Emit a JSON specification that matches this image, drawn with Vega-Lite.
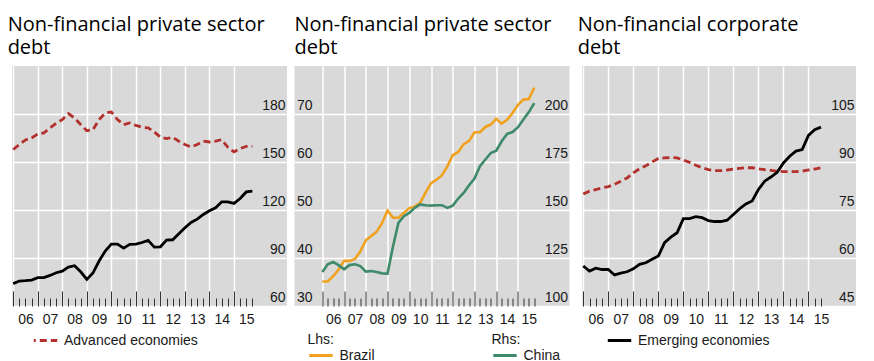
{
  "$schema": "https://vega.github.io/schema/vega-lite/v6.json",
  "background": "white",
  "padding": {"left": 7, "top": 15, "right": 0, "bottom": 0},
  "spacing": 7.5,
  "config": {
    "view": {"fill": "#d9d9d9", "stroke": null},
    "title": {"font": "Open Sans", "fontSize": 20, "fontWeight": "normal", "anchor": "start", "lineHeight": 23, "offset": 8, "color": "#000000"},
    "axis": {"labelFont": "Liberation Sans", "labelFontSize": 14, "labelColor": "#1a1a1a", "title": null, "domain": false},
    "legend": {"labelFont": "Liberation Sans", "labelFontSize": 14, "labelColor": "#1a1a1a", "titleFont": "Liberation Sans", "titleFontSize": 14, "titleFontWeight": "normal", "titleColor": "#1a1a1a", "symbolType": "stroke", "symbolSize": 550, "symbolStrokeWidth": 3, "labelOffset": 5, "padding": 0, "titlePadding": -5, "orient": "none"}
  },
  "datasets": {
    "p1": [
      {"t": 2006.0, "Advanced economies": 157.8, "Emerging economies": 74.0},
      {"t": 2006.25, "Advanced economies": 160.9, "Emerging economies": 75.6},
      {"t": 2006.5, "Advanced economies": 163.8, "Emerging economies": 75.8},
      {"t": 2006.75, "Advanced economies": 165.0, "Emerging economies": 76.2},
      {"t": 2007.0, "Advanced economies": 167.5, "Emerging economies": 77.7},
      {"t": 2007.25, "Advanced economies": 168.2, "Emerging economies": 77.7},
      {"t": 2007.5, "Advanced economies": 171.3, "Emerging economies": 79.1},
      {"t": 2007.75, "Advanced economies": 174.2, "Emerging economies": 80.8},
      {"t": 2008.0, "Advanced economies": 176.5, "Emerging economies": 81.8},
      {"t": 2008.25, "Advanced economies": 180.2, "Emerging economies": 84.3},
      {"t": 2008.5, "Advanced economies": 177.5, "Emerging economies": 85.2},
      {"t": 2008.75, "Advanced economies": 173.4, "Emerging economies": 81.4},
      {"t": 2009.0, "Advanced economies": 169.6, "Emerging economies": 76.6},
      {"t": 2009.25, "Advanced economies": 170.2, "Emerging economies": 80.6},
      {"t": 2009.5, "Advanced economies": 176.5, "Emerging economies": 88.1},
      {"t": 2009.75, "Advanced economies": 180.6, "Emerging economies": 94.3},
      {"t": 2010.0, "Advanced economies": 181.3, "Emerging economies": 98.7},
      {"t": 2010.25, "Advanced economies": 176.5, "Emerging economies": 98.7},
      {"t": 2010.5, "Advanced economies": 173.4, "Emerging economies": 96.2},
      {"t": 2010.75, "Advanced economies": 174.4, "Emerging economies": 98.5},
      {"t": 2011.0, "Advanced economies": 172.9, "Emerging economies": 98.7},
      {"t": 2011.25, "Advanced economies": 171.7, "Emerging economies": 99.7},
      {"t": 2011.5, "Advanced economies": 171.3, "Emerging economies": 101.0},
      {"t": 2011.75, "Advanced economies": 168.8, "Emerging economies": 96.8},
      {"t": 2012.0, "Advanced economies": 165.5, "Emerging economies": 97.0},
      {"t": 2012.25, "Advanced economies": 164.6, "Emerging economies": 101.2},
      {"t": 2012.5, "Advanced economies": 165.5, "Emerging economies": 101.4},
      {"t": 2012.75, "Advanced economies": 163.0, "Emerging economies": 105.1},
      {"t": 2013.0, "Advanced economies": 160.9, "Emerging economies": 108.9},
      {"t": 2013.25, "Advanced economies": 159.4, "Emerging economies": 112.2},
      {"t": 2013.5, "Advanced economies": 160.9, "Emerging economies": 114.3},
      {"t": 2013.75, "Advanced economies": 163.0, "Emerging economies": 117.2},
      {"t": 2014.0, "Advanced economies": 162.5, "Emerging economies": 119.5},
      {"t": 2014.25, "Advanced economies": 163.0, "Emerging economies": 121.4},
      {"t": 2014.5, "Advanced economies": 164.0, "Emerging economies": 125.1},
      {"t": 2014.75, "Advanced economies": 159.2, "Emerging economies": 125.1},
      {"t": 2015.0, "Advanced economies": 156.3, "Emerging economies": 124.1},
      {"t": 2015.25, "Advanced economies": 158.4, "Emerging economies": 127.2},
      {"t": 2015.5, "Advanced economies": 159.8, "Emerging economies": 131.3},
      {"t": 2015.75, "Advanced economies": 159.8, "Emerging economies": 131.8}
    ],
    "p2": [
      {"t": 2006.0, "Brazil": 35.1, "China": 117.7},
      {"t": 2006.25, "Brazil": 35.1, "China": 121.7},
      {"t": 2006.5, "Brazil": 36.2, "China": 122.9},
      {"t": 2006.75, "Brazil": 37.6, "China": 121.3},
      {"t": 2007.0, "Brazil": 39.4, "China": 119.1},
      {"t": 2007.25, "Brazil": 39.4, "China": 121.3},
      {"t": 2007.5, "Brazil": 39.8, "China": 121.7},
      {"t": 2007.75, "Brazil": 41.4, "China": 120.8},
      {"t": 2008.0, "Brazil": 43.7, "China": 117.9},
      {"t": 2008.25, "Brazil": 44.6, "China": 118.2},
      {"t": 2008.5, "Brazil": 45.5, "China": 117.7},
      {"t": 2008.75, "Brazil": 47.3, "China": 117.0},
      {"t": 2009.0, "Brazil": 49.9, "China": 116.8},
      {"t": 2009.25, "Brazil": 48.4, "China": 131.0},
      {"t": 2009.5, "Brazil": 48.4, "China": 143.3},
      {"t": 2009.75, "Brazil": 49.4, "China": 146.8},
      {"t": 2010.0, "Brazil": 50.4, "China": 148.5},
      {"t": 2010.25, "Brazil": 50.7, "China": 151.1},
      {"t": 2010.5, "Brazil": 51.5, "China": 152.9},
      {"t": 2010.75, "Brazil": 53.6, "China": 152.5},
      {"t": 2011.0, "Brazil": 55.6, "China": 152.3},
      {"t": 2011.25, "Brazil": 56.3, "China": 152.5},
      {"t": 2011.5, "Brazil": 57.2, "China": 152.5},
      {"t": 2011.75, "Brazil": 59.1, "China": 151.1},
      {"t": 2012.0, "Brazil": 61.4, "China": 152.3},
      {"t": 2012.25, "Brazil": 62.1, "China": 156.0},
      {"t": 2012.5, "Brazil": 63.7, "China": 158.9},
      {"t": 2012.75, "Brazil": 64.4, "China": 162.9},
      {"t": 2013.0, "Brazil": 66.2, "China": 166.4},
      {"t": 2013.25, "Brazil": 66.2, "China": 172.8},
      {"t": 2013.5, "Brazil": 67.3, "China": 176.3},
      {"t": 2013.75, "Brazil": 67.8, "China": 179.7},
      {"t": 2014.0, "Brazil": 69.0, "China": 180.9},
      {"t": 2014.25, "Brazil": 68.0, "China": 185.8},
      {"t": 2014.5, "Brazil": 68.8, "China": 189.6},
      {"t": 2014.75, "Brazil": 70.2, "China": 190.6},
      {"t": 2015.0, "Brazil": 71.9, "China": 193.1},
      {"t": 2015.25, "Brazil": 73.0, "China": 197.1},
      {"t": 2015.5, "Brazil": 73.1, "China": 201.0},
      {"t": 2015.75, "Brazil": 75.5, "China": 205.7}
    ],
    "p3": [
      {"t": 2006.0, "Advanced economies": 80.0, "Emerging economies": 57.5},
      {"t": 2006.25, "Advanced economies": 80.9, "Emerging economies": 55.9},
      {"t": 2006.5, "Advanced economies": 81.4, "Emerging economies": 56.8},
      {"t": 2006.75, "Advanced economies": 81.9, "Emerging economies": 56.4},
      {"t": 2007.0, "Advanced economies": 82.3, "Emerging economies": 56.4},
      {"t": 2007.25, "Advanced economies": 83.0, "Emerging economies": 54.7},
      {"t": 2007.5, "Advanced economies": 84.0, "Emerging economies": 55.3},
      {"t": 2007.75, "Advanced economies": 85.0, "Emerging economies": 55.7},
      {"t": 2008.0, "Advanced economies": 86.6, "Emerging economies": 56.6},
      {"t": 2008.25, "Advanced economies": 87.9, "Emerging economies": 58.0},
      {"t": 2008.5, "Advanced economies": 88.8, "Emerging economies": 58.5},
      {"t": 2008.75, "Advanced economies": 90.0, "Emerging economies": 59.6},
      {"t": 2009.0, "Advanced economies": 91.1, "Emerging economies": 60.6},
      {"t": 2009.25, "Advanced economies": 91.3, "Emerging economies": 64.8},
      {"t": 2009.5, "Advanced economies": 91.4, "Emerging economies": 66.5},
      {"t": 2009.75, "Advanced economies": 91.3, "Emerging economies": 67.9},
      {"t": 2010.0, "Advanced economies": 90.6, "Emerging economies": 72.3},
      {"t": 2010.25, "Advanced economies": 89.9, "Emerging economies": 72.3},
      {"t": 2010.5, "Advanced economies": 89.0, "Emerging economies": 72.9},
      {"t": 2010.75, "Advanced economies": 88.2, "Emerging economies": 72.6},
      {"t": 2011.0, "Advanced economies": 87.6, "Emerging economies": 71.7},
      {"t": 2011.25, "Advanced economies": 87.3, "Emerging economies": 71.4},
      {"t": 2011.5, "Advanced economies": 87.3, "Emerging economies": 71.4},
      {"t": 2011.75, "Advanced economies": 87.5, "Emerging economies": 71.8},
      {"t": 2012.0, "Advanced economies": 87.8, "Emerging economies": 73.6},
      {"t": 2012.25, "Advanced economies": 88.0, "Emerging economies": 75.4},
      {"t": 2012.5, "Advanced economies": 88.2, "Emerging economies": 76.9},
      {"t": 2012.75, "Advanced economies": 88.2, "Emerging economies": 77.8},
      {"t": 2013.0, "Advanced economies": 87.9, "Emerging economies": 81.4},
      {"t": 2013.25, "Advanced economies": 87.6, "Emerging economies": 84.0},
      {"t": 2013.5, "Advanced economies": 87.4, "Emerging economies": 85.3},
      {"t": 2013.75, "Advanced economies": 87.1, "Emerging economies": 86.8},
      {"t": 2014.0, "Advanced economies": 87.0, "Emerging economies": 89.7},
      {"t": 2014.25, "Advanced economies": 87.0, "Emerging economies": 91.8},
      {"t": 2014.5, "Advanced economies": 87.0, "Emerging economies": 93.4},
      {"t": 2014.75, "Advanced economies": 87.1, "Emerging economies": 93.9},
      {"t": 2015.0, "Advanced economies": 87.5, "Emerging economies": 98.3},
      {"t": 2015.25, "Advanced economies": 87.8, "Emerging economies": 100.1},
      {"t": 2015.5, "Advanced economies": 88.2, "Emerging economies": 100.9}
    ]
  },
  "hconcat": [
    {
      "width": 275,
      "height": 240,
      "title": {"text": ["Non-financial private sector", "debt"]},
      "data": {"name": "p1"},
      "encoding": {
        "x": {
          "field": "t", "type": "quantitative",
          "scale": {"domain": [2005.95, 2017.16], "nice": false, "zero": false},
          "axis": {
            "values": [2006, 2006.25, 2006.5, 2006.75, 2007, 2007.25, 2007.5, 2007.75, 2008, 2008.25, 2008.5, 2008.75, 2009, 2009.25, 2009.5, 2009.75, 2010, 2010.25, 2010.5, 2010.75, 2011, 2011.25, 2011.5, 2011.75, 2012, 2012.25, 2012.5, 2012.75, 2013, 2013.25, 2013.5, 2013.75, 2014, 2014.25, 2014.5, 2014.75, 2015, 2015.25, 2015.5, 2015.75],
            "ticks": true,
            "tickSize": {"condition": {"test": "datum.value % 1 === 0", "value": -15}, "value": -8},
            "tickColor": "#333333", "tickWidth": 1, "tickOpacity": 1,
            "grid": true, "gridColor": "#ffffff", "gridWidth": 1.5,
            "gridOpacity": {"condition": {"test": "datum.value % 1 === 0", "value": 1}, "value": 0},
            "labelExpr": "datum.value % 1 === 0.5 ? format(floor(datum.value) % 100, '02d') : ''",
            "labelPadding": 25, "labelBaseline": "alphabetic", "labelAlign": "center", "labelOverlap": false, "labelFlush": false
          }
        }
      },
      "layer": [
        {
          "mark": {"type": "line", "strokeWidth": 2.8, "strokeDash": [7, 4]},
          "encoding": {
            "y": {
              "field": "Advanced economies", "type": "quantitative",
              "scale": {"domain": [60, 210], "nice": false, "zero": false},
              "axis": {"orient": "left", "values": [60, 90, 120, 150, 180], "grid": true, "gridColor": "#ffffff", "gridWidth": 1.5, "ticks": false, "labels": false}
            },
            "color": {"datum": "Advanced economies", "scale": {"range": ["#b3312d"]}, "legend": {"title": null, "legendX": 20, "legendY": 261, "symbolDash": [7, 4], "symbolDashOffset": 5}}
          }
        },
        {
          "mark": {"type": "line", "strokeWidth": 2.8, "color": "#000000"},
          "encoding": {
            "y": {
              "field": "Emerging economies", "type": "quantitative",
              "scale": {"domain": [60, 210], "nice": false, "zero": false},
              "axis": {"orient": "right", "values": [60, 90, 120, 150, 180], "grid": false, "ticks": false, "labelAlign": "right", "labelPadding": -2, "labelBaseline": "alphabetic", "labelOffset": -5}
            }
          }
        }
      ],
      "resolve": {"scale": {"y": "independent", "color": "independent"}}
    },
    {
      "width": 275,
      "height": 240,
      "title": {"text": ["Non-financial private sector", "debt"]},
      "data": {"name": "p2"},
      "encoding": {
        "x": {
          "field": "t", "type": "quantitative",
          "scale": {"domain": [2004.72, 2017.37], "nice": false, "zero": false},
          "axis": {
            "values": [2006, 2006.25, 2006.5, 2006.75, 2007, 2007.25, 2007.5, 2007.75, 2008, 2008.25, 2008.5, 2008.75, 2009, 2009.25, 2009.5, 2009.75, 2010, 2010.25, 2010.5, 2010.75, 2011, 2011.25, 2011.5, 2011.75, 2012, 2012.25, 2012.5, 2012.75, 2013, 2013.25, 2013.5, 2013.75, 2014, 2014.25, 2014.5, 2014.75, 2015, 2015.25, 2015.5, 2015.75],
            "ticks": true,
            "tickSize": {"condition": {"test": "datum.value % 1 === 0", "value": -15}, "value": -8},
            "tickColor": "#333333", "tickWidth": 1, "tickOpacity": 1,
            "grid": true, "gridColor": "#ffffff", "gridWidth": 1.5,
            "gridOpacity": {"condition": {"test": "datum.value % 1 === 0", "value": 1}, "value": 0},
            "labelExpr": "datum.value % 1 === 0.5 ? format(floor(datum.value) % 100, '02d') : ''",
            "labelPadding": 25, "labelBaseline": "alphabetic", "labelAlign": "center", "labelOverlap": false, "labelFlush": false
          }
        }
      },
      "layer": [
        {
          "mark": {"type": "line", "strokeWidth": 2.6},
          "encoding": {
            "y": {
              "field": "Brazil", "type": "quantitative",
              "scale": {"domain": [30, 80], "nice": false, "zero": false},
              "axis": {"orient": "left", "values": [30, 40, 50, 60, 70], "grid": true, "gridColor": "#ffffff", "gridWidth": 1.5, "ticks": false, "labelAlign": "left", "labelPadding": -2, "labelBaseline": "alphabetic", "labelOffset": -5}
            },
            "color": {"datum": "Brazil", "scale": {"range": ["#f0a21e"]}, "legend": {"title": "Lhs:", "legendX": 13, "legendY": 267}}
          }
        },
        {
          "mark": {"type": "line", "strokeWidth": 2.6},
          "encoding": {
            "y": {
              "field": "China", "type": "quantitative",
              "scale": {"domain": [100, 225], "nice": false, "zero": false},
              "axis": {"orient": "right", "values": [100, 125, 150, 175, 200], "grid": false, "ticks": false, "labelAlign": "right", "labelPadding": -2, "labelBaseline": "alphabetic", "labelOffset": -5}
            },
            "color": {"datum": "China", "scale": {"range": ["#3e8a6b"]}, "legend": {"title": "Rhs:", "legendX": 197, "legendY": 267}}
          }
        }
      ],
      "resolve": {"scale": {"y": "independent", "color": "independent"}}
    },
    {
      "width": 274,
      "height": 240,
      "title": {"text": ["Non-financial corporate", "debt"]},
      "data": {"name": "p3"},
      "encoding": {
        "x": {
          "field": "t", "type": "quantitative",
          "scale": {"domain": [2005.95, 2016.9], "nice": false, "zero": false},
          "axis": {
            "values": [2006, 2006.25, 2006.5, 2006.75, 2007, 2007.25, 2007.5, 2007.75, 2008, 2008.25, 2008.5, 2008.75, 2009, 2009.25, 2009.5, 2009.75, 2010, 2010.25, 2010.5, 2010.75, 2011, 2011.25, 2011.5, 2011.75, 2012, 2012.25, 2012.5, 2012.75, 2013, 2013.25, 2013.5, 2013.75, 2014, 2014.25, 2014.5, 2014.75, 2015, 2015.25, 2015.5],
            "ticks": true,
            "tickSize": {"condition": {"test": "datum.value % 1 === 0", "value": -15}, "value": -8},
            "tickColor": "#333333", "tickWidth": 1, "tickOpacity": 1,
            "grid": true, "gridColor": "#ffffff", "gridWidth": 1.5,
            "gridOpacity": {"condition": {"test": "datum.value % 1 === 0", "value": 1}, "value": 0},
            "labelExpr": "datum.value % 1 === 0.5 ? format(floor(datum.value) % 100, '02d') : ''",
            "labelPadding": 25, "labelBaseline": "alphabetic", "labelAlign": "center", "labelOverlap": false, "labelFlush": false
          }
        }
      },
      "layer": [
        {
          "mark": {"type": "line", "strokeWidth": 2.8, "color": "#b3312d", "strokeDash": [7, 4]},
          "encoding": {
            "y": {
              "field": "Advanced economies", "type": "quantitative",
              "scale": {"domain": [45, 120], "nice": false, "zero": false},
              "axis": {"orient": "left", "values": [45, 60, 75, 90, 105], "grid": true, "gridColor": "#ffffff", "gridWidth": 1.5, "ticks": false, "labels": false}
            }
          }
        },
        {
          "mark": {"type": "line", "strokeWidth": 2.8},
          "encoding": {
            "y": {
              "field": "Emerging economies", "type": "quantitative",
              "scale": {"domain": [45, 120], "nice": false, "zero": false},
              "axis": {"orient": "right", "values": [45, 60, 75, 90, 105], "grid": false, "ticks": false, "labelAlign": "right", "labelPadding": -2, "labelBaseline": "alphabetic", "labelOffset": -5}
            },
            "color": {"datum": "Emerging economies", "scale": {"range": ["#000000"]}, "legend": {"title": null, "legendX": 24, "legendY": 261}}
          }
        }
      ],
      "resolve": {"scale": {"y": "independent", "color": "independent"}}
    }
  ],
  "resolve": {"scale": {"color": "independent", "x": "independent", "y": "independent"}}
}
